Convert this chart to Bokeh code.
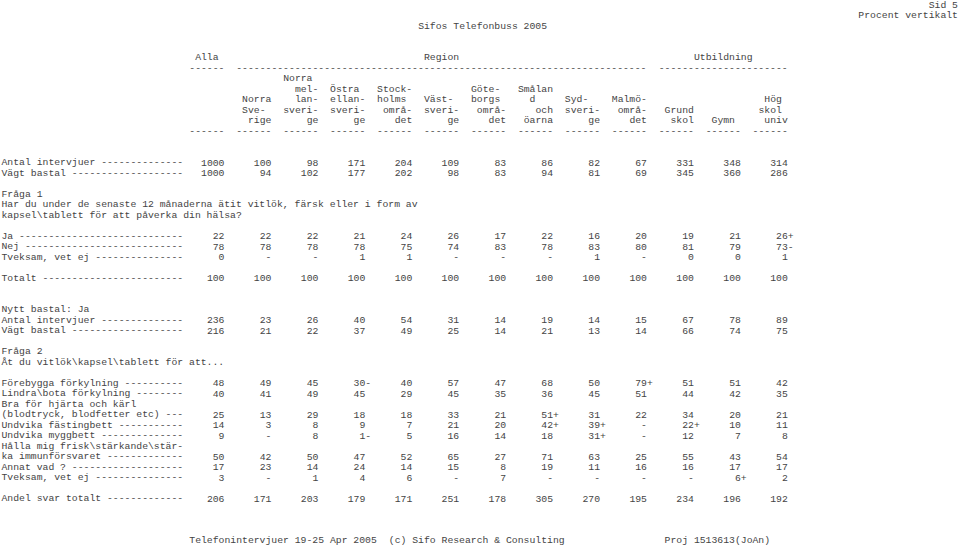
from bokeh.plotting import figure
from bokeh.models import Range1d, ColumnDataSource
from bokeh.embed import file_html
from bokeh.resources import INLINE
from bokeh.core.properties import value

# ---------------- data ----------------
page_no = "Sid 5"
page_note = "Procent vertikalt"
title = "Sifos Telefonbuss 2005"
group_labels = ["Alla", "Region", "Utbildning"]

# header text of the 13 columns (fixed width 6), lines 1..5 of the header block
col_headers = [
    ["      ", "      ", "      ", "      ", "      "],
    ["      ", "      ", " Norra", " Sve- ", "  rige"],
    ["Norra ", "  mel-", "  lan-", "sveri-", "    ge"],
    ["      ", "Östra ", "ellan-", "sveri-", "    ge"],
    ["      ", "Stock-", "holms ", " områ-", "   det"],
    ["      ", "      ", "Väst- ", "sveri-", "    ge"],
    ["      ", "Göte- ", "borgs ", " områ-", "   det"],
    ["      ", "Smålan", "  d   ", "   och", " öarna"],
    ["      ", "      ", "Syd-  ", "sveri-", "    ge"],
    ["      ", "      ", "Malmö-", " områ-", "   det"],
    ["      ", "      ", "      ", " Grund", "  skol"],
    ["      ", "      ", "      ", "      ", " Gymn "],
    ["      ", "      ", "  Hög ", " skol ", "  univ"],
]

t1_base_labels = ["Antal intervjuer --------------", "Vägt bastal -------------------"]
t1_base = [
    ["1000", "100", "98", "171", "204", "109", "83", "86", "82", "67", "331", "348", "314"],
    ["1000", "94", "102", "177", "202", "98", "83", "94", "81", "69", "345", "360", "286"],
]
q1_text = ["Fråga 1",
           "Har du under de senaste 12 månaderna ätit vitlök, färsk eller i form av",
           "kapsel\\tablett för att påverka din hälsa?"]
q1_labels = ["Ja ----------------------------", "Nej ---------------------------",
             "Tveksam, vet ej ---------------"]
q1_values = [
    ["22", "22", "22", "21", "24", "26", "17", "22", "16", "20", "19", "21", "26+"],
    ["78", "78", "78", "78", "75", "74", "83", "78", "83", "80", "81", "79", "73-"],
    ["0", "-", "-", "1", "1", "-", "-", "-", "1", "-", "0", "0", "1"],
]
q1_total_label = "Totalt ------------------------"
q1_total = ["100"] * 13

t2_title = "Nytt bastal: Ja"
t2_base_labels = ["Antal intervjuer --------------", "Vägt bastal -------------------"]
t2_base = [
    ["236", "23", "26", "40", "54", "31", "14", "19", "14", "15", "67", "78", "89"],
    ["216", "21", "22", "37", "49", "25", "14", "21", "13", "14", "66", "74", "75"],
]
q2_text = ["Fråga 2", "Åt du vitlök\\kapsel\\tablett för att..."]
q2_labels = [
    ["Förebygga förkylning ----------"],
    ["Lindra\\bota förkylning --------"],
    ["Bra för hjärta och kärl", "(blodtryck, blodfetter etc) ---"],
    ["Undvika fästingbett -----------"],
    ["Undvika myggbett --------------"],
    ["Hålla mig frisk\\stärkande\\stär-", "ka immunförsvaret -------------"],
    ["Annat vad ? -------------------"],
    ["Tveksam, vet ej ---------------"],
]
q2_values = [
    ["48", "49", "45", "30-", "40", "57", "47", "68", "50", "79+", "51", "51", "42"],
    ["40", "41", "49", "45", "29", "45", "35", "36", "45", "51", "44", "42", "35"],
    ["25", "13", "29", "18", "18", "33", "21", "51+", "31", "22", "34", "20", "21"],
    ["14", "3", "8", "9", "7", "21", "20", "42+", "39+", "-", "22+", "10", "11"],
    ["9", "-", "8", "1-", "5", "16", "14", "18", "31+", "-", "12", "7", "8"],
    ["50", "42", "50", "47", "52", "65", "27", "71", "63", "25", "55", "43", "54"],
    ["17", "23", "14", "24", "14", "15", "8", "19", "11", "16", "16", "17", "17"],
    ["3", "-", "1", "4", "6", "-", "7", "-", "-", "-", "-", "6+", "2"],
]
q2_total_label = "Andel svar totalt -------------"
q2_total = ["206", "171", "203", "179", "171", "251", "178", "305", "270", "195", "234", "196", "192"]

footer_left = "Telefonintervjuer 19-25 Apr 2005  (c) Sifo Research & Consulting"
footer_right = "Proj 1513613(JoAn)"

# ---------------- layout (character grid) ----------------
W, H = 960, 547
CW = 5.868      # px per character
LH = 10.49      # px per line
X0, Y0 = 1.0, 5.0
NCOL = 13
field_start = [32 + 8 * k for k in range(NCOL)]
field_right = [s + 6 for s in field_start]

L_items = {"x": [], "y": [], "t": []}
R_items = {"x": [], "y": [], "t": []}


def put_left(c, line, s):
    lead = len(s) - len(s.lstrip())
    s2 = s.strip()
    if s2:
        L_items["x"].append(c + lead)
        L_items["y"].append(line)
        L_items["t"].append(s2)


def put_right(c, line, s):
    R_items["x"].append(c)
    R_items["y"].append(line)
    R_items["t"].append(s)


def put_row(line, vals):
    for k, v in enumerate(vals):
        if v != "-" and v[-1] in "+-":
            put_right(field_right[k], line, v[:-1])
            put_left(field_right[k], line, v[-1])
        else:
            put_right(field_right[k], line, v)


def put_words(c, line, s):
    # keep runs of several blanks exactly as in the fixed-width original
    parts = s.split("  ")
    pos = c
    for i, part in enumerate(parts):
        put_left(pos, line, part)
        pos += len(part) + 2


# page head
put_right(163, 0, page_no)
put_right(163, 1, page_note)
put_left(71, 2, title)

# group heading
put_left(33, 5, group_labels[0])
put_left(72, 5, group_labels[1])
put_left(118, 5, group_labels[2])
put_left(field_start[0], 6, "-" * 6)
put_left(field_start[1], 6, "-" * (field_right[9] - field_start[1]))
put_left(field_start[10], 6, "-" * (field_right[12] - field_start[10]))
for k in range(NCOL):
    for i, s in enumerate(col_headers[k]):
        put_left(field_start[k], 7 + i, s)
    put_left(field_start[k], 12, "-" * 6)

# table 1
line = 15
for lab, vals in zip(t1_base_labels, t1_base):
    put_left(0, line, lab)
    put_row(line, vals)
    line += 1
line += 1
for s in q1_text:
    put_left(0, line, s)
    line += 1
line += 1
for lab, vals in zip(q1_labels, q1_values):
    put_left(0, line, lab)
    put_row(line, vals)
    line += 1
line += 1
put_left(0, line, q1_total_label)
put_row(line, q1_total)
line += 3

# table 2
put_left(0, line, t2_title)
line += 1
for lab, vals in zip(t2_base_labels, t2_base):
    put_left(0, line, lab)
    put_row(line, vals)
    line += 1
line += 1
for s in q2_text:
    put_left(0, line, s)
    line += 1
line += 1
for labs, vals in zip(q2_labels, q2_values):
    for j, lab in enumerate(labs):
        put_left(0, line, lab)
        if j < len(labs) - 1:
            line += 1
    put_row(line, vals)
    line += 1
line += 1
put_left(0, line, q2_total_label)
put_row(line, q2_total)

# footer
put_words(32, 51, footer_left)
put_left(113, 51, footer_right)

# ---------------- figure ----------------
p = figure(width=W, height=H, output_backend="svg", toolbar_location=None,
           x_range=Range1d(-X0 / CW, (W - X0) / CW),
           y_range=Range1d((H - Y0) / LH, -Y0 / LH),
           x_axis_type=None, y_axis_type=None, min_border=0,
           outline_line_color=None, background_fill_color="white",
           border_fill_color="white")
p.grid.visible = False

common = dict(text_font=value("Liberation Mono"), text_font_size="9.78px",
              text_color="#444444", text_baseline="middle")
p.text(x="x", y="y", text="t", source=ColumnDataSource(L_items),
       text_align="left", **common)
p.text(x="x", y="y", text="t", source=ColumnDataSource(R_items),
       text_align="right", **common)

open("out.html", "w").write(file_html(p, INLINE))
